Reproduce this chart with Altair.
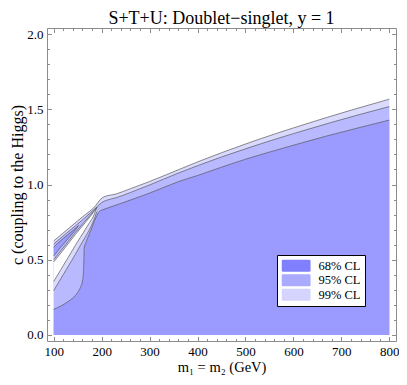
import altair as alt
import pandas as pd

F = "Liberation Serif"
GRAY = "#8c8c8c"
LINE = "#555555"

# ---- contour boundaries ----
u99_x = [100, 130, 160, 188, 197, 205, 230, 260, 300, 360, 400, 450, 500, 566, 600, 669, 730, 800]
u99_y = [0.625, 0.705, 0.785, 0.862, 0.900, 0.918, 0.937, 0.972, 1.020, 1.098, 1.150, 1.211, 1.269, 1.341, 1.376, 1.445, 1.503, 1.567]

u95_x = [100, 130, 160, 188, 200, 210, 230, 260, 300, 360, 400, 450, 500, 566, 600, 669, 730, 800]
u95_y = [0.605, 0.685, 0.765, 0.845, 0.880, 0.895, 0.912, 0.947, 0.997, 1.076, 1.125, 1.183, 1.237, 1.305, 1.338, 1.403, 1.458, 1.518]

l68_x = [100, 115, 130, 140, 150, 156, 160, 162, 163, 163.5, 168, 178, 188, 196, 205, 215, 240, 270, 300, 360, 400, 450, 500, 566, 600, 669, 730, 800]
l68_y = [0.170, 0.193, 0.222, 0.246, 0.283, 0.318, 0.360, 0.420, 0.500, 0.575, 0.620, 0.700, 0.780, 0.822, 0.835, 0.847, 0.874, 0.908, 0.943, 1.019, 1.060, 1.115, 1.168, 1.230, 1.261, 1.322, 1.372, 1.428]

wedge_x = [100, 115, 130, 140, 147, 152]
wedge_top = [0.585, 0.628, 0.668, 0.694, 0.713, 0.728]
wedge_bot = [0.525, 0.585, 0.641, 0.678, 0.705, 0.728]

gap_x = [100, 115, 130, 145, 155, 165, 175, 183, 190]
gap99_hi = [0.500, 0.560, 0.620, 0.680, 0.718, 0.755, 0.792, 0.822, 0.848]
white_hi = [0.485, 0.545, 0.606, 0.667, 0.705, 0.744, 0.783, 0.815, 0.848]
white_lo = [0.355, 0.435, 0.515, 0.595, 0.646, 0.697, 0.748, 0.790, 0.848]
gap99_lo = [0.295, 0.375, 0.455, 0.535, 0.592, 0.646, 0.703, 0.758, 0.820]

x_major = [100, 200, 300, 400, 500, 600, 700, 800]
x_minor = list(range(120, 800, 20))
y_major = [0.0, 0.5, 1.0, 1.5, 2.0]
y_minor = [round(i * 0.1, 1) for i in range(0, 21)]

legend_labels = ["68% CL", "95% CL", "99% CL"]
legend_colors = ["#8080ff", "#aaaaff", "#d4d4ff"]
C68, C95, C99 = "#9a9aff", "#b9b9ff", "#dadaff"

xs = alt.Scale(domain=[86, 814], nice=False, zero=False)
ys = alt.Scale(domain=[-0.04, 2.04], nice=False, zero=False)


def band(xv, lo, hi):
    return pd.DataFrame({"x": xv, "lo": lo, "hi": hi})


def area(df, color):
    return alt.Chart(df).mark_area(color=color, opacity=1, interpolate="monotone").encode(
        x=alt.X("x:Q", scale=xs, axis=None),
        y=alt.Y("hi:Q", scale=ys, axis=None),
        y2="lo:Q",
    )


def line(xv, yv):
    df = pd.DataFrame({"x": xv, "y": yv})
    return alt.Chart(df).mark_line(color=LINE, strokeWidth=0.8, opacity=0.85, interpolate="monotone").encode(
        x=alt.X("x:Q", scale=xs, axis=None),
        y=alt.Y("y:Q", scale=ys, axis=None),
    )


layers = [
    area(band(u99_x, [0] * len(u99_x), u99_y), C99),
    area(band(u95_x, [0] * len(u95_x), u95_y), C95),
    area(band(gap_x, gap99_lo, gap99_hi), C99),
    area(band(gap_x, white_lo, white_hi), "white"),
    area(band(l68_x, [0] * len(l68_x), l68_y), C68),
    area(band(wedge_x, wedge_bot, wedge_top), C68),
    line(u99_x, u99_y),
    line(u95_x, u95_y),
    line(l68_x, l68_y),
    line(wedge_x, wedge_top),
    line(wedge_x, wedge_bot),
    line(gap_x, gap99_hi),
    line(gap_x, white_hi),
    line(gap_x, white_lo),
    line(gap_x, gap99_lo),
]

dummy = pd.DataFrame({"x": [100.0], "y": [0.0]})


def axis_layer(xaxis=None, yaxis=None):
    return alt.Chart(dummy).mark_point(opacity=0).encode(
        x=alt.X("x:Q", scale=xs, axis=xaxis),
        y=alt.Y("y:Q", scale=ys, axis=yaxis),
    )


lab = dict(labelFont=F, labelFontSize=13, labelColor="black", grid=False, domain=False)
tick = dict(labels=False, domain=False, grid=False, title=None, tickColor=GRAY, tickWidth=1)
MAJ, MIN = 4.5, 2.5

axes = [
    axis_layer(xaxis=alt.Axis(orient="bottom", values=x_major, ticks=False, labelPadding=4,
                              title="m₁ = m₂ (GeV)", titleFont=F, titleFontSize=14.5,
                              titleFontWeight="normal", titleColor="black", titlePadding=2, **lab)),
    axis_layer(xaxis=alt.Axis(orient="bottom", values=x_major, tickSize=MAJ, offset=-MAJ, **tick)),
    axis_layer(xaxis=alt.Axis(orient="bottom", values=x_minor, tickSize=MIN, offset=-MIN, **tick)),
    axis_layer(xaxis=alt.Axis(orient="top", values=x_major, tickSize=MAJ, offset=-MAJ, **tick)),
    axis_layer(xaxis=alt.Axis(orient="top", values=x_minor, tickSize=MIN, offset=-MIN, **tick)),
    axis_layer(yaxis=alt.Axis(orient="left", values=y_major, ticks=False, labelPadding=4, format=".1f",
                              title="c (coupling to the Higgs)", titleFont=F, titleFontSize=16,
                              titleFontWeight="normal", titleColor="black", titlePadding=1.5, **lab)),
    axis_layer(yaxis=alt.Axis(orient="left", values=y_major, tickSize=MAJ, offset=-MAJ, **tick)),
    axis_layer(yaxis=alt.Axis(orient="left", values=y_minor, tickSize=MIN, offset=-MIN, **tick)),
    axis_layer(yaxis=alt.Axis(orient="right", values=y_major, tickSize=MAJ, offset=-MAJ, **tick)),
    axis_layer(yaxis=alt.Axis(orient="right", values=y_minor, tickSize=MIN, offset=-MIN, **tick)),
]

SWATCH = ("M-2.2,-1H2.2Q2.4,-1 2.4,-0.8V0.8Q2.4,1 2.2,1H-2.2Q-2.4,1 -2.4,0.8"
          "V-0.8Q-2.4,-1 -2.2,-1Z")
leg_df = pd.DataFrame({"label": legend_labels, "x": [None] * 3})
legend_layer = alt.Chart(leg_df).mark_point(shape=SWATCH, filled=True, opacity=1, size=144).encode(
    x=alt.X("x:Q", scale=xs, axis=None),
    color=alt.Color("label:N", scale=alt.Scale(domain=legend_labels, range=legend_colors),
                    legend=alt.Legend(orient="none", legendX=230, legendY=227, title=None,
                                      symbolType=SWATCH, symbolSize=144, symbolStrokeWidth=0,
                                      symbolOpacity=1, symbolOffset=8.4, labelFont=F,
                                      labelFontSize=12.5, labelColor="black", labelOffset=16,
                                      padding=4.5, rowPadding=1.5, strokeColor="black",
                                      fillColor="white", cornerRadius=0)),
)

chart = alt.layer(*layers, *axes, legend_layer).resolve_axis(
    x="independent", y="independent"
).properties(
    width=349, height=313,
    autosize=alt.AutoSizeParams(type="none"),
    padding={"left": 39, "top": 20, "right": 3, "bottom": 35},
    title=alt.TitleParams("S+T+U: Doublet−singlet, y = 1", font=F, fontSize=18,
                          fontWeight="normal", color="black", offset=-14.4, anchor="middle",
                          baseline="alphabetic"),
).configure_view(stroke=GRAY, strokeWidth=1)

chart.save("out.html", embed_options={"renderer": "svg", "actions": False})
